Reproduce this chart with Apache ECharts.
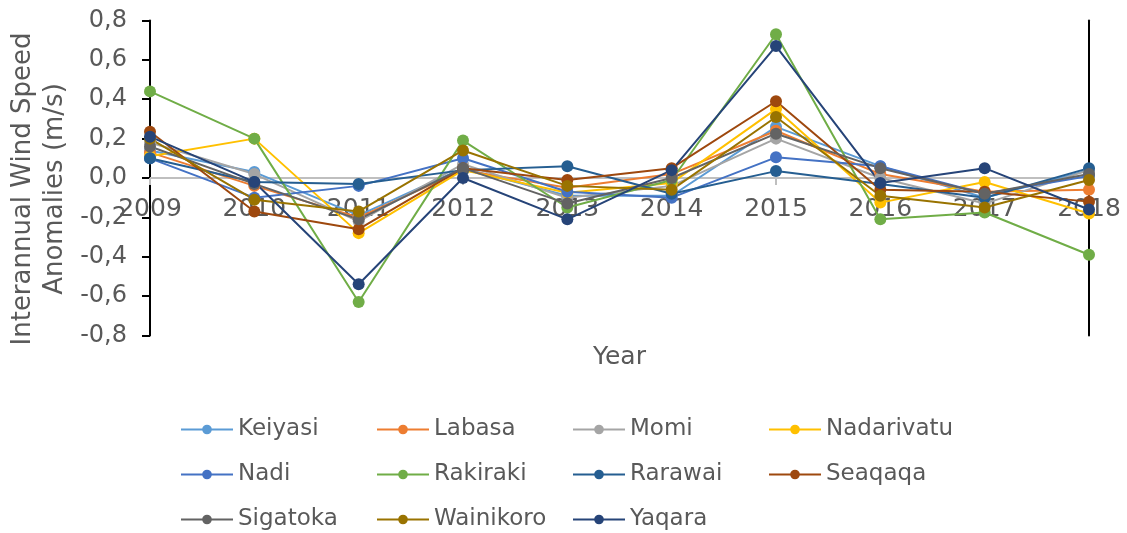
<!DOCTYPE html>
<html>
<head>
<meta charset="utf-8">
<title>Interannual Wind Speed Anomalies</title>
<script src="https://cdn.jsdelivr.net/npm/echarts@6/dist/echarts.min.js"></script>
<style>
  html, body { margin: 0; padding: 0; background: #fff; }
  #chart { width: 1127px; height: 533px; }
</style>
</head>
<body>
<div id="chart"></div>
<script>
// years on the x axis
const years = ['2009', '2010', '2011', '2012', '2013', '2014', '2015', '2016', '2017', '2018']

// station anomalies (m/s)
const keiyasi = [0.14, 0.03, -0.19, 0.05, -0.09, -0.09, 0.26, 0.06, -0.10, 0.04]
const labasa = [0.13, -0.04, -0.20, 0.04, -0.05, 0.02, 0.24, 0.02, -0.07, -0.06]
const momi = [0.18, 0.02, -0.22, 0.07, -0.10, -0.04, 0.20, 0.00, -0.13, 0.04]
const nadarivatu = [0.11, 0.20, -0.28, 0.04, -0.075, -0.025, 0.35, -0.125, -0.02, -0.18]
const nadi = [0.10, -0.10, -0.04, 0.10, -0.07, -0.10, 0.105, 0.06, -0.08, 0.01]
const rakiraki = [0.44, 0.20, -0.63, 0.19, -0.15, -0.01, 0.73, -0.21, -0.175, -0.39]
const rarawai = [0.10, -0.02, -0.03, 0.04, 0.06, -0.08, 0.035, -0.03, -0.10, 0.05]
const seaqaqa = [0.235, -0.17, -0.26, 0.05, -0.01, 0.05, 0.39, -0.06, -0.07, -0.12]
const sigatoka = [0.16, -0.03, -0.21, 0.05, -0.13, 0.00, 0.225, 0.05, -0.08, 0.02]
const wainikoro = [0.20, -0.11, -0.17, 0.14, -0.04, -0.06, 0.31, -0.09, -0.15, -0.01]
const yaqara = [0.21, -0.02, -0.54, 0.00, -0.21, 0.04, 0.67, -0.025, 0.05, -0.16]

const stationNames = ['Keiyasi', 'Labasa', 'Momi', 'Nadarivatu', 'Nadi', 'Rakiraki',
  'Rarawai', 'Seaqaqa', 'Sigatoka', 'Wainikoro', 'Yaqara']
const stationValues = [keiyasi, labasa, momi, nadarivatu, nadi, rakiraki,
  rarawai, seaqaqa, sigatoka, wainikoro, yaqara]
const stationColors = ['#5B9BD5', '#ED7D31', '#A5A5A5', '#FFC000', '#4472C4', '#70AD47',
  '#255E91', '#9E480E', '#636363', '#997300', '#264478']

const FONT = 'DejaVu Sans'
const GREY_TEXT = '#595959'

const chart = echarts.init(document.getElementById('chart'))

const option = {
  animation: false,
  color: stationColors,
  textStyle: { fontFamily: FONT },
  grid: { left: 150, right: 38, top: 20.5, bottom: 197.5 },
  legend: {
    left: 175,
    top: 407,
    width: 790,
    itemWidth: 52,
    itemHeight: 12,
    itemGap: 10,
    data: stationNames,
    textStyle: { fontFamily: FONT, fontSize: 23, color: GREY_TEXT, width: 128, lineHeight: 35 }
  },
  xAxis: {
    type: 'category',
    data: years,
    boundaryGap: false,
    // 轴线放到 0 的位置（grid 底部往上 157.5px）
    offset: -157.5,
    name: 'Year',
    nameLocation: 'middle',
    nameGap: 167,
    nameTextStyle: { fontFamily: FONT, fontSize: 25, color: GREY_TEXT },
    axisLine: { onZero: false, lineStyle: { color: '#BFBFBF', width: 2 } },
    axisTick: { show: true, alignWithLabel: true, length: 7, lineStyle: { color: '#BFBFBF', width: 2 } },
    axisLabel: { fontFamily: FONT, fontSize: 25, color: GREY_TEXT, margin: 19 },
    splitLine: { show: false }
  },
  yAxis: [
    {
      type: 'value',
      min: -0.8,
      max: 0.8,
      interval: 0.2,
      axisLine: { show: true, onZero: false, lineStyle: { color: '#000', width: 2 } },
      axisTick: { show: true, length: 8, lineStyle: { color: '#000', width: 2 } },
      axisLabel: {
        fontFamily: FONT,
        fontSize: 24,
        color: GREY_TEXT,
        margin: 23,
        formatter: v => v.toFixed(1).replace('.', ',')
      },
      splitLine: { show: false }
    },
    {
      type: 'value',
      position: 'right',
      min: -0.8,
      max: 0.8,
      interval: 0.2,
      axisLine: { show: true, onZero: false, lineStyle: { color: '#000', width: 2 } },
      axisTick: { show: false },
      axisLabel: { show: false },
      splitLine: { show: false }
    }
  ],
  graphic: [
    {
      type: 'text',
      x: 39,
      y: 189,
      rotation: Math.PI / 2,
      style: {
        text: 'Interannual Wind Speed\nAnomalies (m/s)',
        fontFamily: FONT,
        fontSize: 26,
        lineHeight: 32,
        fill: GREY_TEXT,
        align: 'center',
        verticalAlign: 'middle'
      }
    }
  ],
  series: stationNames.map((name, i) => ({
    name: name,
    type: 'line',
    data: stationValues[i],
    symbol: 'circle',
    symbolSize: 12,
    lineStyle: { width: 2, color: stationColors[i] },
    itemStyle: { color: stationColors[i] }
  }))
}

chart.setOption(option)
</script>
</body>
</html>
